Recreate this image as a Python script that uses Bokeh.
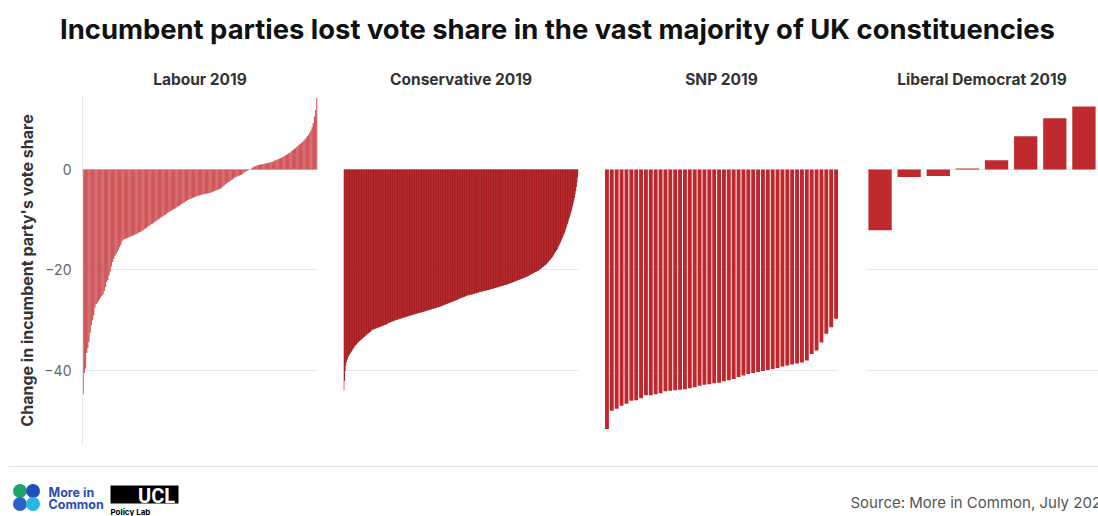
from bokeh.plotting import figure
from bokeh.layouts import column, row
from bokeh.models import Range1d, FixedTicker, Grid, ColumnDataSource, Label
from bokeh.embed import file_html
from bokeh.resources import INLINE
from bokeh.core.properties import value

# ---------------- data ----------------
main_title = "Incumbent parties lost vote share in the vast majority of UK constituencies"
panel_titles = ["Labour 2019", "Conservative 2019", "SNP 2019", "Liberal Democrat 2019"]
y_label = "Change in incumbent party's vote share"
source_text = "Source: More in Common, July 2024"
y_ticks = [-40, -20, 0]

labour = [
    -44.7, -40.5, -39.6, -36.5, -35.5, -34.3, -32.5, -31.0, -30.0, -29.0,
    -27.5, -26.8, -26.6, -26.2, -25.8, -25.4, -25.1, -24.8, -24.2, -23.4,
    -22.4, -22.0, -21.1, -20.3, -19.3, -18.4, -17.8, -17.2, -16.8, -16.4,
    -16.0, -15.5, -15.0, -14.3, -14.0, -13.9, -13.8, -13.7, -13.6, -13.5,
    -13.4, -13.3, -13.2, -13.1, -13.0, -12.9, -12.8, -12.6, -12.5, -12.4,
    -12.2, -12.1, -11.9, -11.8, -11.6, -11.4, -11.2, -11.1, -10.9, -10.8,
    -10.6, -10.4, -10.3, -10.1, -9.9, -9.8, -9.6, -9.4, -9.3, -9.1,
    -9.0, -8.8, -8.6, -8.5, -8.3, -8.2, -8.0, -7.9, -7.8, -7.6,
    -7.5, -7.3, -7.2, -7.0, -6.9, -6.7, -6.6, -6.4, -6.3, -6.1,
    -6.0, -5.9, -5.8, -5.7, -5.6, -5.5, -5.4, -5.3, -5.2, -5.2,
    -5.1, -5.0, -5.0, -4.9, -4.9, -4.8, -4.8, -4.7, -4.7, -4.6,
    -4.5, -4.4, -4.3, -4.2, -4.1, -4.0, -3.9, -3.8, -3.6, -3.4,
    -3.2, -3.0, -2.8, -2.6, -2.5, -2.3, -2.1, -2.0, -1.8, -1.6,
    -1.5, -1.4, -1.3, -1.2, -1.1, -1.0, -0.8, -0.6, -0.5, -0.3,
    -0.2, -0.1, 0.0, 0.1, 0.3, 0.5, 0.6, 0.7, 0.8, 0.9,
    0.9, 1.0, 1.0, 1.1, 1.1, 1.2, 1.2, 1.3, 1.3, 1.4,
    1.5, 1.5, 1.6, 1.7, 1.8, 1.9, 2.0, 2.1, 2.2, 2.3,
    2.4, 2.6, 2.7, 2.9, 3.0, 3.2, 3.3, 3.5, 3.7, 3.9,
    4.1, 4.3, 4.5, 4.7, 4.9, 5.1, 5.3, 5.5, 5.8, 6.0,
    6.3, 6.6, 6.9, 7.3, 7.8, 8.4, 9.2, 10.5, 11.8, 14.2,
]

conservative = [
    -43.9, -42.0, -40.1, -39.0, -38.3, -37.9, -37.6, -37.3, -37.0, -36.8, -36.6, -36.4, -36.2,
    -36.0, -35.8, -35.6, -35.4, -35.2, -35.0, -34.9, -34.8, -34.6, -34.5,
    -34.3, -34.2, -34.1, -34.0, -33.9, -33.8, -33.6, -33.5, -33.4, -33.3, -33.2, -33.1, -33.0,
    -32.9, -32.8, -32.7, -32.6, -32.5, -32.4, -32.3, -32.2,
    -32.0, -31.9, -31.9, -31.8, -31.8, -31.7, -31.7, -31.6, -31.6, -31.5, -31.5, -31.4, -31.4,
    -31.3, -31.3, -31.2, -31.2, -31.1, -31.1, -31.0, -31.0, -30.9, -30.9, -30.8, -30.8, -30.7, -30.6,
    -30.5, -30.5, -30.4, -30.4, -30.3, -30.3, -30.2, -30.2, -30.1, -30.1, -30.0, -30.0, -29.9,
    -29.9, -29.9, -29.8, -29.8, -29.7, -29.7, -29.7, -29.6, -29.6, -29.5, -29.5, -29.5, -29.4,
    -29.4, -29.3, -29.3, -29.3, -29.2, -29.2, -29.1, -29.1, -29.1, -29.0, -29.0, -28.9, -28.9,
    -28.9, -28.8, -28.8, -28.8, -28.7, -28.7, -28.6, -28.6, -28.6, -28.5, -28.5, -28.5, -28.4, -28.4,
    -28.4, -28.3, -28.3, -28.3, -28.2, -28.2, -28.1, -28.1, -28.1, -28.0, -28.0, -27.9, -27.9,
    -27.9, -27.8, -27.8, -27.7, -27.7, -27.7, -27.6, -27.6, -27.6, -27.5, -27.5, -27.4, -27.4,
    -27.4, -27.3, -27.3, -27.2, -27.2, -27.1, -27.1, -27.0, -27.0, -26.9, -26.9, -26.8, -26.8,
    -26.7, -26.7, -26.6, -26.6, -26.5, -26.5, -26.4, -26.4, -26.3, -26.3, -26.2, -26.2, -26.1, -26.1,
    -26.0, -26.0, -25.9, -25.9, -25.8, -25.7, -25.7, -25.6, -25.6, -25.5, -25.5,
    -25.4, -25.4, -25.3, -25.3, -25.2, -25.2, -25.1, -25.1, -25.0, -25.0,
    -25.0, -24.9, -24.9, -24.9, -24.8, -24.8, -24.8, -24.7, -24.7, -24.7, -24.6, -24.6, -24.6,
    -24.5, -24.5, -24.5, -24.4, -24.4, -24.4, -24.3, -24.3, -24.3, -24.3, -24.2, -24.2, -24.2,
    -24.1, -24.1, -24.1, -24.0, -24.0, -24.0,
    -23.9, -23.9, -23.9, -23.8, -23.8, -23.8, -23.7, -23.7, -23.6, -23.6, -23.6, -23.5, -23.5, -23.5,
    -23.4, -23.4, -23.3, -23.3, -23.3, -23.2, -23.2, -23.1, -23.1, -23.1, -23.0, -23.0, -23.0,
    -22.9, -22.9, -22.9,
    -22.8, -22.8, -22.7, -22.7, -22.6, -22.6, -22.5, -22.5, -22.4, -22.4, -22.3, -22.3, -22.2, -22.2,
    -22.1, -22.1, -22.0, -22.0, -21.9, -21.9, -21.8, -21.8, -21.7, -21.7, -21.6, -21.6, -21.5, -21.5,
    -21.4, -21.4,
    -21.3, -21.2, -21.2, -21.1, -21.0, -21.0, -20.9, -20.8, -20.8, -20.7, -20.6, -20.6, -20.5, -20.4,
    -20.4, -20.3, -20.2, -20.2, -20.1, -20.0,
    -19.9, -19.8, -19.7, -19.6, -19.5, -19.4, -19.3, -19.2, -19.1, -19.0, -18.9, -18.8, -18.6, -18.5,
    -18.3, -18.2, -18.0, -17.9, -17.7, -17.6,
    -17.4, -17.2, -17.0, -16.8, -16.6, -16.4, -16.2, -16.0, -15.8, -15.5, -15.3, -15.0, -14.8, -14.5,
    -14.2, -13.9, -13.6, -13.3, -13.0, -12.7,
    -12.4, -12.0, -11.6, -11.2, -10.8, -10.4, -10.0, -9.6, -9.2, -8.8, -8.3, -7.8, -7.3, -6.8,
    -6.3, -5.7, -5.0, -4.3, -3.5, -2.6, -1.6, -0.6,
]

snp = [
    -51.6, -48.0, -47.6, -47.0, -46.6, -46.0, -45.9, -45.5, -44.9, -44.9,
    -44.7, -44.5, -44.1, -44.0, -43.9, -43.8, -43.7, -43.5, -43.3, -43.0,
    -42.8, -42.7, -42.5, -42.4, -42.1, -41.9, -41.7, -41.3, -41.0, -40.7,
    -40.5, -40.3, -40.1, -39.9, -39.7, -39.5, -39.2, -39.0, -38.8, -38.6,
    -38.4, -38.0, -36.7, -36.0, -34.4, -32.7, -31.4, -29.7,
]

libdem = [-12.1, -1.5, -1.3, 0.2, 1.8, 6.6, 10.2, 12.5]

# ---------------- style ----------------
FONT = "Inter"
Y_MIN, Y_MAX = -54.9, 14.7
GRID_COLOR = "#e8e8e8"


def header():
    p = figure(width=1098, height=58, x_range=Range1d(0, 1), y_range=Range1d(0, 1),
               toolbar_location=None, output_backend="svg",
               x_axis_location=None, y_axis_location=None, min_border=0)
    p.outline_line_color = None
    p.xgrid.visible = False
    p.ygrid.visible = False
    p.add_layout(Label(x=557, y=30, x_units="screen", y_units="screen", text=main_title,
                       text_align="center", text_baseline="middle",
                       text_font="Inter", text_font_style="bold",
                       text_font_size="27.4px", text_color="#111111"))
    return p


def panel(vals, title, width, bl, br, color, bw, show_axis):
    n = len(vals)
    src = ColumnDataSource(dict(x=list(range(n)), top=vals))
    p = figure(width=width, height=395, x_range=Range1d(-0.5, n - 0.5),
               y_range=Range1d(Y_MIN, Y_MAX), toolbar_location=None, output_backend="svg",
               x_axis_location=None, y_axis_location="left" if show_axis else None,
               min_border_left=bl, min_border_right=br, min_border_top=37, min_border_bottom=8,
               title=title)
    p.outline_line_color = None
    p.title.align = "center"
    p.title.text_font = FONT
    p.title.text_font_size = "15.5px"
    p.title.text_font_style = "bold"
    p.title.text_color = "#333333"
    p.title.standoff = 14
    for g in list(p.grid):
        g.visible = False
    p.add_layout(Grid(dimension=1, ticker=FixedTicker(ticks=y_ticks),
                      grid_line_color=GRID_COLOR, grid_line_width=1.2))
    if show_axis:
        ax = p.yaxis[0]
        ax.ticker = FixedTicker(ticks=y_ticks)
        ax.axis_line_color = GRID_COLOR
        ax.axis_line_width = 1.2
        ax.major_tick_line_color = None
        ax.minor_tick_line_color = None
        ax.major_tick_out = 0
        ax.major_tick_in = 0
        ax.minor_tick_out = 0
        ax.major_label_text_font = FONT
        ax.major_label_text_font_size = "14px"
        ax.major_label_text_color = "#666666"
        ax.major_label_standoff = 11
        ax.axis_label = y_label
        ax.axis_label_text_font = FONT
        ax.axis_label_text_font_style = "bold"
        ax.axis_label_text_font_size = "16px"
        ax.axis_label_text_color = "#333333"
        ax.axis_label_standoff = 4
    p.vbar(x="x", top="top", bottom=0, width=bw, source=src,
           fill_color=color, line_color=None)
    return p


def footer():
    # data units equal pixels; y measured up from the bottom of the page
    p = figure(width=1098, height=63, x_range=Range1d(0, 1098), y_range=Range1d(0, 63),
               toolbar_location=None, output_backend="svg",
               x_axis_location=None, y_axis_location=None, min_border=0)
    p.outline_line_color = None
    p.xgrid.visible = False
    p.ygrid.visible = False
    p.segment(x0=[8], y0=[50], x1=[1098], y1=[50], line_color="#e3e3e3", line_width=1.2)
    # More in Common logo
    p.circle(x=[19.5, 32.5, 19.5, 32.5], y=[25.5, 25.5, 12.5, 12.5], radius=7,
             fill_color=["#1ea36a", "#1f4fb8", "#2a62c9", "#27b5e6"], line_color=None)
    p.scatter(x=[26], y=[19], size=8, marker="diamond", fill_color="white", line_color=None)
    p.text(x=[48, 48], y=[24, 12], text=["More in", "Common"], text_font=value(FONT),
           text_font_style="bold", text_font_size="12.5px", text_color="#2a4db3",
           text_baseline="middle")
    # UCL Policy Lab logo
    p.quad(left=[110], right=[178], top=[31], bottom=[13], fill_color="black", line_color=None)
    p.text(x=[156], y=[21], text=["UCL"], text_font=value("Roboto"), text_font_style="bold",
           text_font_size="20px", text_color="white", text_align="center",
           text_baseline="middle")
    p.text(x=[110], y=[5], text=["Policy Lab"], text_font=value(FONT), text_font_style="bold",
           text_font_size="8px", text_color="black", text_baseline="middle")
    # source
    p.text(x=[850], y=[14], text=[source_text], text_font=value(FONT), text_font_size="15px",
           text_color="#555555", text_baseline="middle")
    return p


p1 = panel(labour, panel_titles[0], 330, 82, 13, "#d0575a", 1.2, True)
p2 = panel(conservative, panel_titles[1], 261, 13, 13, "#a91b1e", 1.6, False)
p3 = panel(snp, panel_titles[2], 260, 13, 13, "#c0272d", 0.8, False)
p4 = panel(libdem, panel_titles[3], 247, 14, 0, "#bf2a2e", 0.8, False)

layout = column(header(), row(p1, p2, p3, p4, spacing=0), footer(), spacing=0)

open("out.html", "w").write(file_html(layout, INLINE))
